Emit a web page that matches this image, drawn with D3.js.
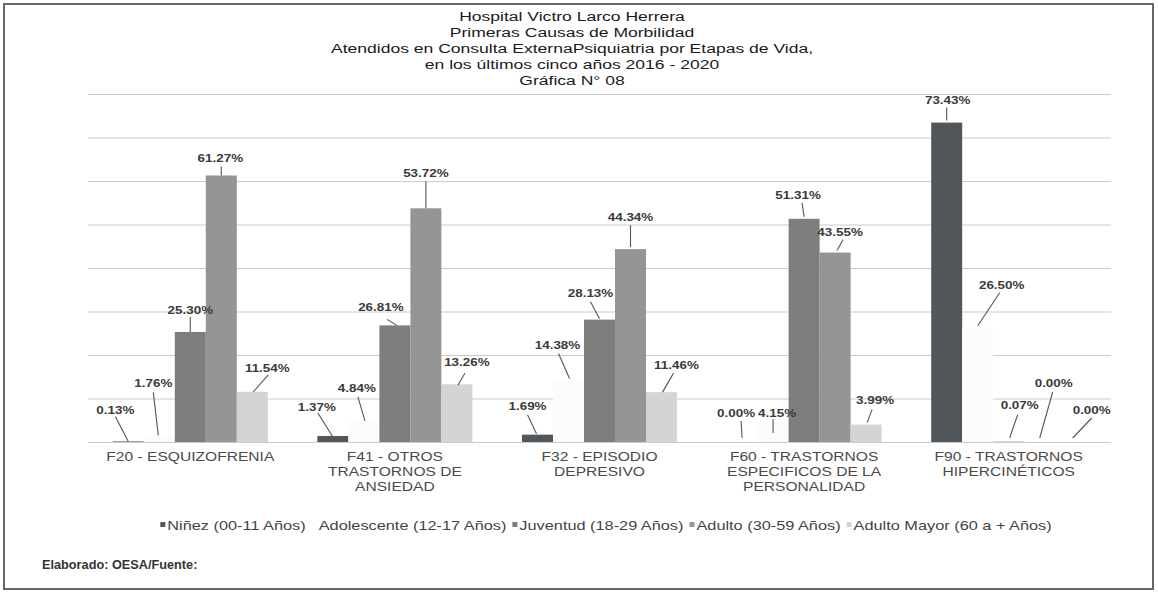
<!DOCTYPE html>
<html><head><meta charset="utf-8">
<script src="https://cdn.jsdelivr.net/npm/d3@7"></script>
<style>
html,body{margin:0;padding:0;background:#fff;}
svg{display:block;font-family:"Liberation Sans",Arial,sans-serif;}
</style></head>
<body><svg id="chart" width="1158" height="592"></svg>
<script>
// ---------- data ----------
const titleLines = ["Hospital Victro Larco Herrera","Primeras Causas de Morbilidad","Atendidos  en Consulta ExternaPsiquiatria por Etapas de Vida,","en los últimos  cinco años 2016 - 2020","Gráfica N° 08"];
const categories = ["F20 - ESQUIZOFRENIA","F41 - OTROS TRASTORNOS DE ANSIEDAD","F32 - EPISODIO DEPRESIVO","F60 - TRASTORNOS ESPECIFICOS DE LA PERSONALIDAD","F90 - TRASTORNOS HIPERCINÉTICOS"];
const categoryLines = [["F20 - ESQUIZOFRENIA"],["F41 - OTROS","TRASTORNOS DE","ANSIEDAD"],["F32 - EPISODIO","DEPRESIVO"],["F60 - TRASTORNOS","ESPECIFICOS DE LA","PERSONALIDAD"],["F90 - TRASTORNOS","HIPERCINÉTICOS"]];
const seriesNames = ["Niñez (00-11 Años)","Adolescente (12-17 Años)","Juventud (18-29 Años)","Adulto (30-59 Años)","Adulto Mayor (60 a + Años)"];
const ninez       = [0.13, 1.37, 1.69, 0.00, 73.43];
const adolescente = [1.76, 4.84, 14.38, 4.15, 26.50];
const juventud    = [25.30, 26.81, 28.13, 51.31, 0.07];
const adulto      = [61.27, 53.72, 44.34, 43.55, 0.00];
const adultoMayor = [11.54, 13.26, 11.46, 3.99, 0.00];
const yTicks = [0,10,20,30,40,50,60,70,80];
const footerText = "Elaborado: OESA/Fuente:";

// ---------- style / layout ----------
const seriesValues = [ninez, adolescente, juventud, adulto, adultoMayor];
const colors = ["#51565b","#fcfcfc","#7e7e7e","#959595","#d4d4d4"];
const SX = 1.3; // horizontal stretch of scanned text
// label offsets per category, per series: [dx,dy from bar top, line start dx,dy from label, line end dx,dy from bar top]
const labelLayout = [
  [[-13,-31,0,6,0,0],[-6,-51,0,9,-1,1],[0,-22,0,7,0,0],[-1,-17,1,8,0,0],[15,-24,1,7,1,0]],
  [[-16,-29,1,6,0,1],[-7,-33,1,9,1,0],[-14,-18,6,12,2,0],[0,-35,0,8,0,0],[10,-22,-2,11,1,1]],
  [[-10,-29,0,9,-1,-1],[-11,-34,1,8,1,-1],[-9,-27,0,9,0,-1],[0,-32,0,8,0,-2],[15,-27,-3,8,1,0]],
  [[-6,-29,5,8,0,-4],[4,-11,-4,6,0,9],[-6,-24,4,8,0,-2],[5,-21,3,8,2,-2],[9,-25,-3,10,1,-2]],
  [[1,-23,-1,8,0,-2],[24,-42,-2,8,0,-1],[11,-37,-2,10,1,-4],[14,-59,-1,9,0,-4],[21,-32,0,8,2,-4]]
];

const svg = d3.select("#chart");
svg.append("rect").attr("x",0).attr("y",0).attr("width",1158).attr("height",592).attr("fill","#fff");
svg.append("rect").attr("x",4).attr("y",4).attr("width",1149).attr("height",585)
  .attr("fill","none").attr("stroke","#666").attr("stroke-width",2);

function stext(sel, x, y, str, opts){
  const t = sel.append("text")
    .attr("transform",`translate(${x},${y}) scale(${opts.sx||SX},1)`)
    .attr("text-anchor",opts.anchor||"middle")
    .attr("font-size",opts.size)
    .attr("font-weight",opts.weight||"normal")
    .attr("fill",opts.fill||"#333")
    .text(str);
  return t;
}

// title
titleLines.forEach((l,i)=> stext(svg, 572, 21 + i*16, l, {size:13.5, fill:"#1a1a1a"}));

// scales
const x0 = d3.scaleBand().domain(categories).range([88,1111]).paddingInner(0.2424).paddingOuter(0.1212);
const x1 = d3.scaleBand().domain(seriesNames).range([0, x0.bandwidth()]);
const y = d3.scaleLinear().domain([0,80]).range([442,94]);

// gridlines
const grid = svg.append("g").attr("transform","translate(88,0)")
  .call(d3.axisLeft(y).tickValues(yTicks).tickSize(-(1111-88)).tickFormat(""));
grid.select(".domain").remove();
grid.selectAll(".tick line").attr("stroke","#cbcbcb").attr("stroke-width",1.2);

// bars
const rows = [];
categories.forEach((c,ci)=> seriesNames.forEach((s,si)=> rows.push({c,ci,s,si,v:seriesValues[si][ci]})));
svg.append("g").selectAll("rect").data(rows).join("rect")
  .attr("x", d=> x0(d.c)+x1(d.s))
  .attr("y", d=> y(d.v))
  .attr("width", x1.bandwidth())
  .attr("height", d=> y(0)-y(d.v))
  .attr("fill", d=> colors[d.si]);

// data labels with leader lines
const fmt = d3.format(".2f");
const lg = svg.append("g");
rows.forEach(d=>{
  const L = labelLayout[d.ci][d.si];
  const cx = x0(d.c)+x1(d.s)+x1.bandwidth()/2;
  const top = y(d.v);
  const tx = cx+L[0], ty = top+L[1];
  lg.append("line").attr("x1",tx+L[2]).attr("y1",ty+L[3]).attr("x2",cx+L[4]).attr("y2",top+L[5])
    .attr("stroke","#555").attr("stroke-width",1.1);
  stext(lg, tx, ty+4, fmt(d.v)+"%", {size:10.5, weight:"bold", fill:"#3a3a3a", sx:1.28});
});

// category labels
categories.forEach((c,ci)=>{
  const cx = x0(c)+x0.bandwidth()/2;
  categoryLines[ci].forEach((l,li)=> stext(svg, cx, 461+li*15, l, {size:12, fill:"#4a4a4a"}));
});

// legend
const LSX = 1.36;
const leg = svg.append("g");
const items = seriesNames.map((s,i)=>{
  const g = leg.append("g");
  g.append("rect").attr("width",5).attr("height",5).attr("y",-8).attr("fill",colors[i]);
  const t = stext(g, 7, 0, s, {size:12, anchor:"start", fill:"#444", sx:LSX});
  const w = 7 + t.node().getComputedTextLength()*LSX;
  return {g,w};
});
const gap = 6;
const total = d3.sum(items,d=>d.w) + gap*(items.length-1);
let lx = 606 - total/2;
items.forEach(it=>{ it.g.attr("transform",`translate(${lx},530)`); lx += it.w+gap; });

// footer
stext(svg, 42, 569, footerText, {size:12, weight:"bold", anchor:"start", sx:1.06, fill:"#333"});
</script></body></html>
